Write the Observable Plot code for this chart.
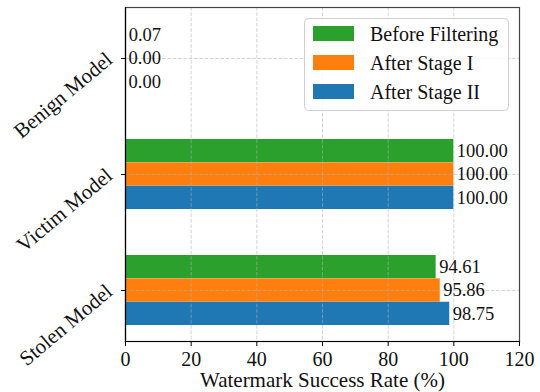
<!DOCTYPE html>
<html>
<head>
<meta charset="utf-8">
<script src="https://cdn.jsdelivr.net/npm/d3@7"></script>
<script src="https://cdn.jsdelivr.net/npm/@observablehq/plot@0.6"></script>
<style>
  html, body { margin: 0; padding: 0; background: #fff; }
  #chart { position: relative; width: 540px; height: 392px; }
</style>
</head>
<body>
<div id="chart"></div>
<script>
// ---- data ----
const categories = ["Benign Model", "Victim Model", "Stolen Model"];
const series = ["Before Filtering", "After Stage I", "After Stage II"];
const beforeFiltering = [0.07, 100.00, 94.61];
const afterStage1 = [0.00, 100.00, 95.86];
const afterStage2 = [0.00, 100.00, 98.75];
const colors = ["#2ca02c", "#ff7f0e", "#1f77b4"];
const xTicks = [0, 20, 40, 60, 80, 100, 120];
const xLabel = "Watermark Success Rate (%)";

const valuesBySeries = [beforeFiltering, afterStage1, afterStage2];
const rows = [];
series.forEach((s, k) => categories.forEach((c, i) => rows.push({model: c, series: s, k, value: valuesBySeries[k][i]})));

// ---- layout ----
const W = 540, H = 392;
const mL = 125, mR = 21, mT = 7, mB = 51;
const padInner = 0.4, padOuter = 0.1286;
const innerH = H - mT - mB;
const step = innerH / (categories.length - padInner + 2 * padOuter);
const bw = step * (1 - padInner);
const sub = bw / series.length;
const font = "'Liberation Serif', 'DejaVu Serif', 'Times New Roman', serif";

const gridStyle = {stroke: "#b0b0b0", strokeOpacity: 0.55, strokeDasharray: "3.7,1.6"};

const barMarks = series.map((s, k) => Plot.barX(rows.filter(d => d.k === k), {
  x: "value", y: "model", fill: colors[k],
  insetTop: k * sub, insetBottom: (series.length - 1 - k) * sub
}));
const textMarks = series.map((s, k) => Plot.text(rows.filter(d => d.k === k), {
  x: "value", y: "model", dy: (k - (series.length - 1) / 2) * sub, dx: 3,
  text: d => d.value.toFixed(2), textAnchor: "start", fontSize: 18.5, fill: "#111"
}));

const plot = Plot.plot({
  width: W, height: H,
  marginLeft: mL, marginRight: mR, marginTop: mT, marginBottom: mB,
  style: {fontFamily: font, background: "#fff", color: "#111"},
  x: {domain: [0, 120], ticks: xTicks},
  y: {domain: categories, paddingInner: padInner, paddingOuter: padOuter},
  marks: [
    ...barMarks,
    Plot.gridX({ticks: xTicks, ...gridStyle}),
    Plot.gridY({...gridStyle}),
    Plot.frame({stroke: "#444", strokeWidth: 1.2}),
    Plot.frame({anchor: "left", stroke: "#000", strokeWidth: 1.2}),
    Plot.frame({anchor: "bottom", stroke: "#000", strokeWidth: 1.2}),
    Plot.axisX({ticks: xTicks, tickSize: 5, tickPadding: 5, fontSize: 20, label: null, stroke: "#000"}),
    Plot.axisY({tickSize: 4, text: null, label: null, stroke: "#000"}),
    Plot.text(categories, {y: d => d, frameAnchor: "left", dx: -16, dy: -2, rotate: -40,
                           textAnchor: "end", lineAnchor: "middle", fontSize: 21, fill: "#111"}),
    ...textMarks,
    Plot.text([xLabel], {frameAnchor: "bottom", dy: 39, fontSize: 21, lineAnchor: "middle", fill: "#111"})
  ]
});
document.getElementById("chart").appendChild(plot);

// ---- legend (inside the plot area, top-right) ----
const svg = d3.select(plot);
const lg = svg.append("g").attr("font-family", font).attr("font-size", 20).attr("text-anchor", "start");
lg.append("rect").attr("x", 304.5).attr("y", 18.5).attr("width", 204).attr("height", 92)
  .attr("rx", 4).attr("fill", "#fff").attr("fill-opacity", 0.85).attr("stroke", "#d0d0d0");
series.forEach((s, k) => {
  const cy = 33.5 + k * 29;
  lg.append("rect").attr("x", 313).attr("y", cy - 7.5).attr("width", 41).attr("height", 15).attr("fill", colors[k]);
  lg.append("text").attr("x", 370).attr("y", cy + 7).attr("fill", "#111").attr("text-anchor", "start").text(s);
});
</script>
</body>
</html>
